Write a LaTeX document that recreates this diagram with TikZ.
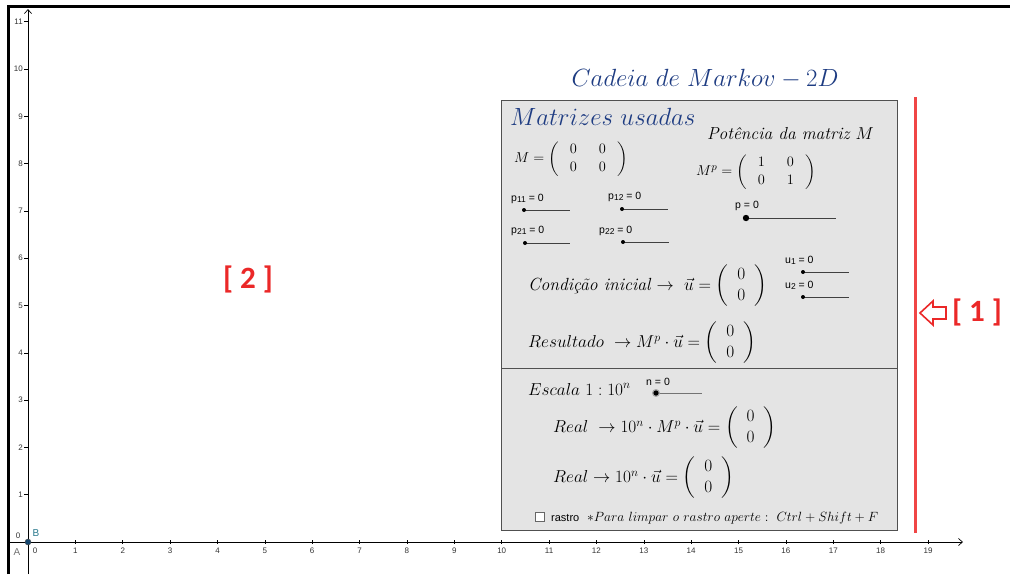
\documentclass[tikz,border=0pt]{standalone}
\usepackage{amsmath}
\usepackage{fontspec}
\newfontfamily\axisfont{Liberation Sans}
\newfontfamily\tagfont{Carlito}
\usetikzlibrary{arrows.meta}
\definecolor{titleblue}{RGB}{30,60,130}
\definecolor{panelfill}{RGB}{228,228,228}
\definecolor{panelline}{RGB}{80,80,80}
\definecolor{tagred}{RGB}{235,40,40}
\definecolor{linered}{RGB}{240,70,70}
\definecolor{pointblue}{RGB}{20,70,110}
\definecolor{labelteal}{RGB}{40,120,140}
\newcommand\subs[1]{\raisebox{-0.35ex}{\fontsize{8.5}{9}\selectfont #1}}
\newcommand\mat[2]{\setlength{\arraycolsep}{8.8pt}\left(\begin{array}{c}#1\\#2\end{array}\right)}
\newcommand\sqmat[4]{\setlength{\arraycolsep}{11pt}\left(\begin{array}{cc}#1&#2\\#3&#4\end{array}\right)}
\tikzset{
  x=1pt,y=-1pt,
  ticklabel/.style={font=\axisfont\fontsize{8}{9}\selectfont, text=black!80, inner sep=0pt},
  sliderlabel/.style={font=\axisfont\fontsize{10.5}{11}\selectfont, inner sep=0pt, anchor=base west},
  sliderline/.style={line width=0.8pt, black!75},
  mathline/.style={font=\fontsize{17.6}{21}\selectfont, inner sep=0pt, anchor=west},
  matline/.style={font=\fontsize{15.5}{18}\selectfont, inner sep=0pt, anchor=west},
  tag/.style={font=\tagfont\bfseries\fontsize{31}{33}\selectfont, text=tagred, inner sep=0pt},
}
\begin{document}
\begin{tikzpicture}
\useasboundingbox[fill=white] (0,0) rectangle (1010,574);
% frame
\draw[line width=3pt] (8,574) -- (8,6) -- (1010,6);
% axes
\coordinate (xs) at (8,542);
\coordinate (xe) at (963,542);
\coordinate (ys) at (28,574);
\coordinate (ye) at (28,9);
\draw[line width=0.7pt, -{Straight Barb[length=4pt,width=7pt]}] (xs) -- (xe);
\draw[line width=0.7pt, -{Straight Barb[length=4pt,width=7pt]}] (ys) -- (ye);
\foreach \k in {1,...,19}{
  \draw[line width=0.6pt] ({28+47.37*\k},540) -- ({28+47.37*\k},544);
  \node[ticklabel] at ({28+47.37*\k},551) {\k};
}
\foreach \k in {1,...,11}{
  \draw[line width=0.6pt] (24,{542-47.3*\k}) -- (28,{542-47.3*\k});
  \node[ticklabel, anchor=east] at (23,{542-47.3*\k}) {\k};
}
\node[ticklabel] (x0) at (35,551) {0};
\node[ticklabel] (y0) at (18,536) {0};
\node[ticklabel, text=black!55, font=\axisfont\fontsize{10}{11}\selectfont] (lA) at (17,552) {A};
\node[ticklabel, text=labelteal, font=\axisfont\fontsize{10}{11}\selectfont] (lB) at (36,533) {B};
\node[circle, fill=pointblue, draw=black!70, inner sep=0pt, minimum size=6pt] (O) at (28,542) {};

% panel
\draw[panelline, fill=panelfill, line width=1pt] (501,100) rectangle (897,530);
\draw[panelline, line width=1pt] (501,368) -- (897,368);

% title
\node[font=\fontsize{24.3}{28}\selectfont, text=titleblue, anchor=base, inner sep=0pt] (title) at (705,86) {$Cadeia\ de\ Markov - 2D$};
\node[font=\fontsize{24.5}{28}\selectfont, text=titleblue, anchor=base west, inner sep=0pt] (mu) at (510,125) {$Matrizes\ usadas$};
\node[font=\fontsize{17.4}{20}\selectfont, anchor=base west, inner sep=0pt] (pot) at (707,139) {\textit{Potência da matriz} $M$};
\node[matline] (M) at (514,159) {$M=\sqmat{0}{0}{0}{0}$};
\node[matline] (Mp) at (696,172) {$M^p=\sqmat{1}{0}{0}{1}$};

% sliders
\node[sliderlabel] (lp11) at (511,201) {p\subs{11} = 0};
\node[sliderlabel] (lp12) at (608,199) {p\subs{12} = 0};
\node[sliderlabel] (lp21) at (511,233) {p\subs{21} = 0};
\node[sliderlabel] (lp22) at (599,233) {p\subs{22} = 0};
\node[sliderlabel] (lp) at (735,208) {p = 0};
\node[sliderlabel] (lu1) at (785,263) {u\subs{1} = 0};
\node[sliderlabel] (lu2) at (785,288) {u\subs{2} = 0};
\node[sliderlabel] (ln) at (646,385) {n = 0};

\coordinate (s11a) at (524,210); \coordinate (s11b) at (570,210);
\coordinate (s12a) at (622,209); \coordinate (s12b) at (668,209);
\coordinate (s21a) at (525,243); \coordinate (s21b) at (570,243);
\coordinate (s22a) at (623,242); \coordinate (s22b) at (669,242);
\coordinate (spa) at (746,218); \coordinate (spb) at (836,218);
\coordinate (su1a) at (803,272); \coordinate (su1b) at (849,272);
\coordinate (su2a) at (803,297); \coordinate (su2b) at (849,297);
\coordinate (sna) at (656,393); \coordinate (snb) at (702,393);
\foreach \a/\b in {s11a/s11b,s12a/s12b,s21a/s21b,s22a/s22b,su1a/su1b,su2a/su2b}{
  \draw[sliderline] (\a) -- (\b);
  \fill (\a) circle (2);
}
\draw[sliderline, line width=1pt] (spa) -- (spb);
\fill (spa) circle (3.2);
\draw[sliderline, black!55] (sna) -- (snb);
\fill[black!35] (sna) circle (4);
\fill (sna) circle (2.6);

% math lines
\node[mathline] (ci) at (528,286) {\textit{Condição inicial} $\rightarrow\ \vec{u}=\mat{0}{0}$};
\node[mathline] (res) at (528,343) {$Resultado\ \rightarrow M^p\cdot\vec{u}=\mat{0}{0}$};
\node[mathline, anchor=base west] (esc) at (528,395) {$Escala\ 1:10^n$};
\node[mathline] (r1) at (553,428) {$Real\ \rightarrow 10^n\cdot M^p\cdot\vec{u}=\mat{0}{0}$};
\node[mathline] (r2) at (553,478) {$Real\rightarrow 10^n\cdot\vec{u}=\mat{0}{0}$};

% checkbox
\node[draw=black!60, fill=white, line width=0.6pt, minimum size=8.5pt, inner sep=0pt] (cb) at (540,517) {};
\node[sliderlabel, font=\axisfont\fontsize{11}{12}\selectfont] (rastro) at (551,521) {rastro};
\node[font=\fontsize{14.4}{16}\selectfont, anchor=base west, inner sep=0pt, scale=0.93, transform shape] (note) at (587,521) {$*Para\ limpar\ o\ rastro\ aperte:\ Ctrl+Shift+F$};

% red marks
\draw[linered, line width=3pt] (915,97) -- (915,533);
\draw[tagred, line width=1.6pt, line join=miter] (920,313) -- (933,301) -- (933,307) -- (946,307) -- (946,319) -- (933,319) -- (933,325) -- cycle;
\node[tag] (t1) at (977,312) {[ 1 ]};
\node[tag] (t2) at (248,279) {[ 2 ]};
\end{tikzpicture}
\end{document}
